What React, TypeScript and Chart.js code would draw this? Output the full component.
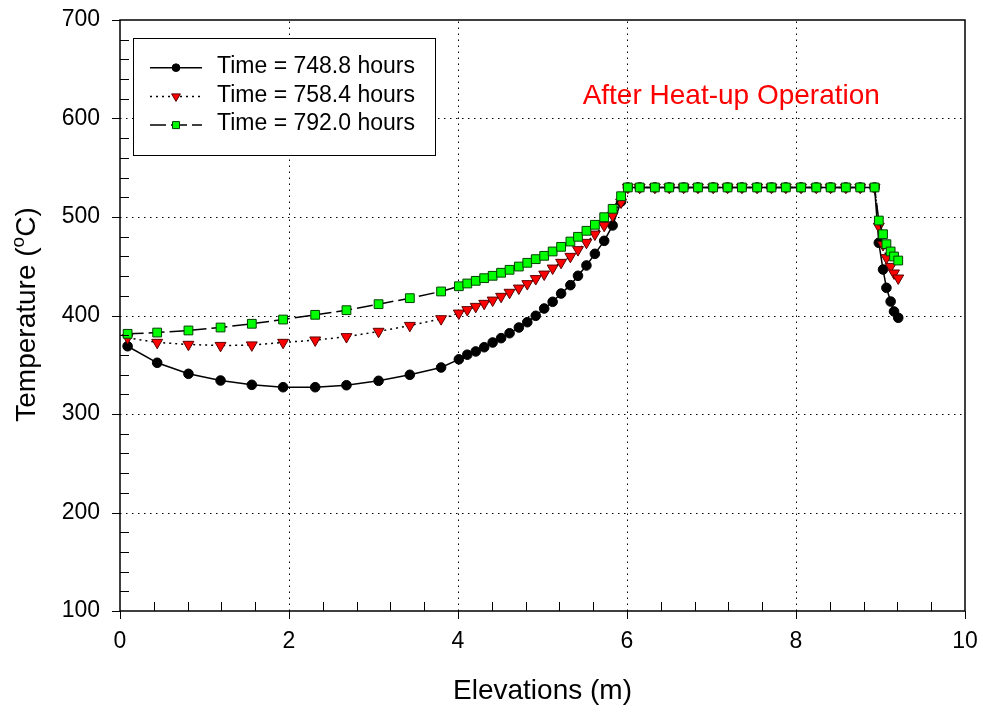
import React, { useEffect, useRef } from 'react';
import { Chart, registerables } from 'chart.js';

Chart.register(...registerables);

const FONT = "'Liberation Sans', Arial, Helvetica, sans-serif";

// ---- data ----
const elevations = [
  0.09, 0.44, 0.81, 1.19, 1.56, 1.93, 2.31, 2.68, 3.06, 3.43, 3.80,
  4.01, 4.11, 4.21, 4.31, 4.41, 4.51, 4.61, 4.72, 4.82, 4.92, 5.02, 5.12, 5.22, 5.33, 5.42, 5.52, 5.62, 5.73, 5.83, 5.93,
  6.01, 6.15, 6.33, 6.50, 6.67, 6.84, 7.02, 7.19, 7.36, 7.54, 7.71, 7.88, 8.06, 8.24, 8.41, 8.59, 8.76, 8.93,
  8.98, 9.03, 9.07, 9.12, 9.16, 9.21,
];

const temp7488 = [
  368.8, 352.0, 340.8, 334.0, 329.6, 327.2, 327.2, 329.2, 333.7, 339.8, 347.2,
  355.5, 360.2, 363.5, 367.8, 372.6, 377.0, 382.0, 387.8, 393.2, 399.7, 407.1, 413.9, 422.3, 430.8, 440.3, 450.8, 462.6, 475.8, 491.4, 515.7,
  530, 530, 530, 530, 530, 530, 530, 530, 530, 530, 530, 530, 530, 530, 530, 530, 530, 530,
  473.8, 446.7, 428.1, 414.2, 404.1, 397.7,
];

const temp7584 = [
  377.4, 372.6, 370.6, 369.5, 370.0, 372.6, 375.0, 378.4, 383.8, 389.8, 396.6,
  402.3, 405.8, 409.1, 412.2, 415.5, 419.3, 423.4, 427.7, 432.2, 437.3, 441.9, 448.0, 453.8, 459.9, 466.7, 474.1, 482.5, 491.4, 501.5, 515.0,
  530, 530, 530, 530, 530, 530, 530, 530, 530, 530, 530, 530, 530, 530, 530, 530, 530, 530,
  490.4, 471.8, 458.6, 449.7, 443.0, 437.9,
];

const temp7920 = [
  381.4, 382.7, 384.8, 387.8, 391.6, 395.9, 400.7, 405.4, 411.5, 417.6, 424.4,
  429.7, 432.5, 435.2, 437.9, 440.3, 443.4, 446.4, 449.7, 453.5, 457.2, 460.6, 465.0, 469.7, 475.1, 479.9, 486.0, 492.1, 499.8, 508.3, 521.1,
  530, 530, 530, 530, 530, 530, 530, 530, 530, 530, 530, 530, 530, 530, 530, 530, 530, 530,
  496.4, 482.5, 472.4, 465.0, 459.9, 455.8,
];

const seriesLabels = ['Time = 748.8 hours', 'Time = 758.4 hours', 'Time = 792.0 hours'];
const xTickValues = [0, 2, 4, 6, 8, 10];
const yTickValues = [100, 200, 300, 400, 500, 600, 700];
const xTitle = 'Elevations (m)';
const yTitleMain = 'Temperature (';
const yTitleSup = 'o';
const yTitleEnd = 'C)';
const noteText = 'After Heat-up Operation';
const noteAt = { x: 5.475, y: 614.4 };

const toPoints = (ys: number[]) => ys.map((v, i) => ({ x: elevations[i], y: v }));

function drawMarker(ctx: CanvasRenderingContext2D, style: string, x: number, y: number, r: number, fill: string, stroke: string, bw: number) {
  ctx.beginPath();
  if (style === 'circle') {
    ctx.arc(x, y, r, 0, Math.PI * 2);
  } else if (style === 'rect') {
    const s = r * Math.SQRT1_2;
    ctx.rect(x - s, y - s, 2 * s, 2 * s);
  } else {
    const h = r * Math.sin(Math.PI / 3);
    ctx.moveTo(x, y + r);
    ctx.lineTo(x - h, y - r / 2);
    ctx.lineTo(x + h, y - r / 2);
    ctx.closePath();
  }
  ctx.fillStyle = fill;
  ctx.fill();
  ctx.lineWidth = bw;
  ctx.strokeStyle = stroke;
  ctx.stroke();
}

const zeroPad = (s: any) => {
  s.paddingLeft = 0;
  s.paddingRight = 0;
  s.paddingTop = 0;
  s.paddingBottom = 0;
};

const framePlugin = {
  id: 'framePlugin',
  beforeDatasetsDraw(chart: any) {
    const { ctx, chartArea: a, scales } = chart;
    const xs = scales.x, ys = scales.y;
    ctx.save();
    ctx.strokeStyle = '#000';
    ctx.lineWidth = 1;
    ctx.setLineDash([1.5, 4.5]);
    for (const v of xTickValues) {
      if (v <= xs.min || v >= xs.max) continue;
      const px = Math.round(xs.getPixelForValue(v)) + 0.5;
      ctx.beginPath(); ctx.moveTo(px, a.bottom); ctx.lineTo(px, a.top); ctx.stroke();
    }
    for (const v of yTickValues) {
      if (v <= ys.min || v >= ys.max) continue;
      const py = Math.round(ys.getPixelForValue(v)) + 0.5;
      ctx.beginPath(); ctx.moveTo(a.left, py); ctx.lineTo(a.right, py); ctx.stroke();
    }
    ctx.restore();
  },
  afterDatasetsDraw(chart: any) {
    const { ctx, chartArea: a, scales } = chart;
    const xs = scales.x, ys = scales.y;
    ctx.save();
    ctx.setLineDash([]);
    ctx.strokeStyle = '#000';
    ctx.lineWidth = 1.5;
    ctx.strokeRect(a.left, a.top, a.right - a.left, a.bottom - a.top);
    ctx.lineWidth = 1;
    for (let v = ys.min; v <= ys.max + 1e-6; v += 20) {
      const py = Math.round(ys.getPixelForValue(v)) + 0.5;
      const major = Math.abs(v % 100) < 1e-6;
      ctx.beginPath();
      if (major) { ctx.moveTo(a.left - 8, py); ctx.lineTo(a.left, py); }
      else { ctx.moveTo(a.left, py); ctx.lineTo(a.left + 9, py); }
      ctx.stroke();
    }
    for (let k = 0; k <= 25; k++) {
      const v = k * 0.4;
      const px = Math.round(xs.getPixelForValue(v)) + 0.5;
      const major = k % 5 === 0;
      ctx.beginPath();
      if (major) { ctx.moveTo(px, a.bottom); ctx.lineTo(px, a.bottom + 8); }
      else { ctx.moveTo(px, a.bottom); ctx.lineTo(px, a.bottom - 9); }
      ctx.stroke();
    }
    ctx.restore();
  },
  afterDraw(chart: any) {
    const { ctx, chartArea: a, scales } = chart;
    const xs = scales.x, ys = scales.y;
    ctx.save();
    ctx.fillStyle = '#ff0000';
    ctx.font = `28px ${FONT}`;
    ctx.textAlign = 'left';
    ctx.textBaseline = 'alphabetic';
    ctx.fillText(noteText, xs.getPixelForValue(noteAt.x), ys.getPixelForValue(noteAt.y));

    const lx = a.left + 13, ly = a.top + 18, lw = 302, lh = 117;
    ctx.fillStyle = '#ffffff';
    ctx.fillRect(lx, ly, lw, lh);
    ctx.strokeStyle = '#000';
    ctx.lineWidth = 1;
    ctx.strokeRect(lx + 0.5, ly + 0.5, lw, lh);
    chart.data.datasets.forEach((ds: any, i: number) => {
      const cy = ly + 29.7 + 28.7 * i;
      ctx.save();
      ctx.setLineDash(ds.borderDash || []);
      ctx.strokeStyle = ds.borderColor;
      ctx.lineWidth = ds.borderWidth;
      ctx.beginPath(); ctx.moveTo(lx + 17, cy); ctx.lineTo(lx + 69, cy); ctx.stroke();
      ctx.setLineDash([]);
      drawMarker(ctx, ds.pointStyle, lx + 43, cy, ds.pointRadius * 0.8, ds.pointBackgroundColor, ds.pointBorderColor, ds.pointBorderWidth);
      ctx.restore();
      ctx.fillStyle = '#000';
      ctx.font = `23px ${FONT}`;
      ctx.textAlign = 'left';
      ctx.textBaseline = 'middle';
      ctx.fillText(ds.label, lx + 84, cy - 1);
    });

    ctx.translate(35, (a.top + a.bottom) / 2 - 1);
    ctx.rotate(-Math.PI / 2);
    ctx.fillStyle = '#000';
    ctx.textAlign = 'left';
    ctx.textBaseline = 'alphabetic';
    const big = `28px ${FONT}`, small = `19px ${FONT}`;
    ctx.font = big;
    const w1 = ctx.measureText(yTitleMain).width;
    const w3 = ctx.measureText(yTitleEnd).width;
    ctx.font = small;
    const w2 = ctx.measureText(yTitleSup).width;
    let sx = -(w1 + w2 + w3) / 2;
    ctx.font = big; ctx.fillText(yTitleMain, sx, 0); sx += w1;
    ctx.font = small; ctx.fillText(yTitleSup, sx, -11); sx += w2;
    ctx.font = big; ctx.fillText(yTitleEnd, sx, 0);
    ctx.restore();
  },
};

export default function App() {
  const ref = useRef<HTMLCanvasElement | null>(null);
  useEffect(() => {
    if (!ref.current) return;
    Chart.defaults.font.family = FONT;
    const chart = new Chart(ref.current, {
      type: 'line',
      data: {
        datasets: [
          {
            label: seriesLabels[0],
            data: toPoints(temp7488),
            borderColor: '#000000',
            borderWidth: 1.5,
            borderDash: [],
            pointStyle: 'circle',
            pointRadius: 4.8,
            pointBackgroundColor: '#000000',
            pointBorderColor: '#000000',
            pointBorderWidth: 1,
            order: 3,
          },
          {
            label: seriesLabels[1],
            data: toPoints(temp7584),
            borderColor: '#000000',
            borderWidth: 1.5,
            borderDash: [2, 4],
            pointStyle: 'triangle',
            pointRotation: 180,
            pointRadius: 6.3,
            pointBackgroundColor: '#ff0000',
            pointBorderColor: '#5a0000',
            pointBorderWidth: 1,
            order: 2,
          },
          {
            label: seriesLabels[2],
            data: toPoints(temp7920),
            borderColor: '#000000',
            borderWidth: 1.5,
            borderDash: [16, 5],
            pointStyle: 'rect',
            pointRadius: 6.2,
            pointBackgroundColor: '#00ff00',
            pointBorderColor: '#004000',
            pointBorderWidth: 1,
            order: 1,
          },
        ] as any,
      },
      options: {
        animation: false,
        responsive: false,
        events: [],
        layout: { padding: { top: 20, right: 18, left: 0, bottom: 0 } },
        plugins: { legend: { display: false }, tooltip: { enabled: false } },
        scales: {
          x: {
            type: 'linear',
            min: 0,
            max: 10,
            grid: { display: false, drawTicks: false },
            border: { display: false },
            ticks: { stepSize: 2, padding: 17, color: '#000', font: { size: 23, family: FONT } },
            title: { display: true, text: xTitle, color: '#000', font: { size: 28, family: FONT }, padding: { top: 0, bottom: 5 } },
            afterFit: (s: any) => { s.height = 102; zeroPad(s); },
          },
          y: {
            type: 'linear',
            min: 100,
            max: 700,
            grid: { display: false, drawTicks: false },
            border: { display: false },
            ticks: { stepSize: 100, padding: 20, color: '#000', font: { size: 23, family: FONT } },
            title: { display: false },
            afterFit: (s: any) => { s.width = 120; zeroPad(s); },
          },
        },
      } as any,
      plugins: [framePlugin],
    });
    return () => chart.destroy();
  }, []);
  return (
    <div style={{ position: 'fixed', left: 0, top: 0, width: 983, height: 713, background: '#fff' }}>
      <canvas ref={ref} width={983} height={713} />
    </div>
  );
}
